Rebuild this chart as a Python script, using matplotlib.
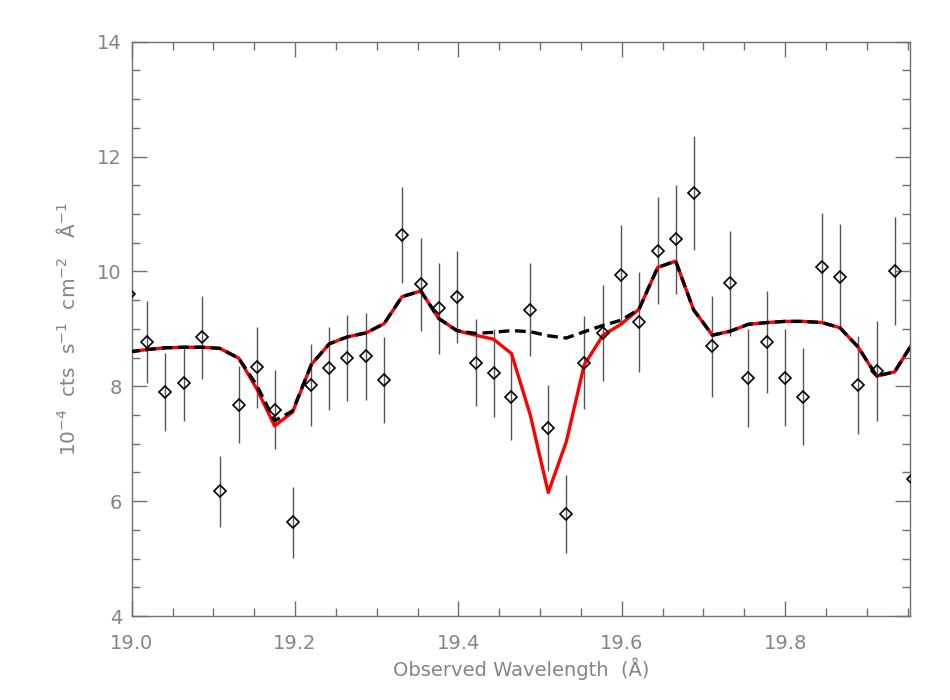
import matplotlib
matplotlib.use("Agg")
import matplotlib.pyplot as plt
from matplotlib.ticker import MultipleLocator

# observed spectrum (wavelength grid, flux, 1-sigma errors)
wave = [18.997, 19.019, 19.041, 19.064, 19.086, 19.108, 19.131, 19.153, 19.175, 19.197,
        19.220, 19.242, 19.264, 19.287, 19.309, 19.331, 19.354, 19.376, 19.398, 19.421,
        19.443, 19.465, 19.488, 19.510, 19.532, 19.554, 19.577, 19.599, 19.621, 19.644,
        19.666, 19.688, 19.711, 19.733, 19.755, 19.778, 19.800, 19.822, 19.845, 19.867,
        19.889, 19.912, 19.934, 19.956]

flux = [9.60, 8.77, 7.90, 8.05, 8.85, 6.17, 7.68, 8.33, 7.59, 5.63,
        8.02, 8.31, 8.49, 8.52, 8.11, 10.63, 9.78, 9.36, 9.55, 8.41,
        8.23, 7.82, 9.33, 7.28, 5.78, 8.41, 8.93, 9.94, 9.12, 10.36,
        10.56, 11.37, 8.70, 9.79, 8.14, 8.77, 8.15, 7.82, 10.08, 9.91,
        8.02, 8.27, 10.00, 6.39]

err = [0.70, 0.72, 0.68, 0.65, 0.72, 0.62, 0.67, 0.71, 0.69, 0.62,
       0.72, 0.73, 0.75, 0.76, 0.75, 0.84, 0.81, 0.79, 0.80, 0.76,
       0.76, 0.75, 0.81, 0.75, 0.68, 0.81, 0.84, 0.87, 0.87, 0.93,
       0.95, 0.99, 0.88, 0.92, 0.85, 0.89, 0.85, 0.84, 0.94, 0.91,
       0.85, 0.87, 0.94, 0.85]

# model with absorption line (red) and continuum-only model (dashed)
model_abs = [8.60, 8.64, 8.67, 8.68, 8.68, 8.66, 8.49, 7.96, 7.31, 7.55,
             8.38, 8.74, 8.86, 8.93, 9.09, 9.56, 9.66, 9.18, 8.97, 8.89,
             8.82, 8.57, 7.50, 6.15, 7.03, 8.37, 8.89, 9.08, 9.34, 10.07,
             10.18, 9.33, 8.89, 8.96, 9.08, 9.11, 9.13, 9.13, 9.11, 9.02,
             8.69, 8.18, 8.25, 8.75]

model_cont = [8.60, 8.64, 8.67, 8.68, 8.68, 8.66, 8.49, 8.02, 7.40, 7.57,
              8.38, 8.74, 8.86, 8.93, 9.09, 9.56, 9.66, 9.18, 8.97, 8.92,
              8.94, 8.97, 8.95, 8.88, 8.84, 8.95, 9.06, 9.15, 9.34, 10.07,
              10.18, 9.33, 8.89, 8.96, 9.08, 9.11, 9.13, 9.13, 9.11, 9.02,
              8.69, 8.18, 8.25, 8.75]

grey = '#858585'

fig = plt.figure(figsize=(9.5, 7), dpi=100)
ax = fig.add_axes([0.1386, 0.12, 0.8194, 0.8204])

ax.errorbar(wave, flux, yerr=err, fmt='none', ecolor='#555555', elinewidth=1.0, capsize=0, zorder=2)
ax.plot(wave, model_abs, color='red', lw=2.4, zorder=3)
ax.plot(wave, model_cont, color='black', lw=2.4, dashes=(3.2, 1.7), zorder=4)
ax.plot(wave, flux, linestyle='none', marker='D', ms=6.5, mfc='none', mec='black', mew=1.2, zorder=5)

ax.set_xlim(19.0, 19.953)
ax.set_ylim(4, 14)

ax.xaxis.set_major_locator(MultipleLocator(0.2))
ax.xaxis.set_minor_locator(MultipleLocator(0.05))
ax.yaxis.set_major_locator(MultipleLocator(2))
ax.yaxis.set_minor_locator(MultipleLocator(0.5))
ax.xaxis.set_major_formatter(plt.FormatStrFormatter('%.1f'))
ax.yaxis.set_major_formatter(plt.FormatStrFormatter('%d'))

ax.tick_params(which='both', direction='in', top=True, right=True, color='#707070', labelcolor=grey, labelsize=14)
ax.tick_params(which='major', length=11, width=1)
ax.tick_params(which='minor', length=6, width=1)
ax.tick_params(axis='x', pad=13)
ax.tick_params(axis='y', pad=7)
for s in ax.spines.values():
    s.set_color('#707070')
    s.set_linewidth(1)

ax.set_xlabel('Observed Wavelength  (Å)', color=grey, fontsize=14, labelpad=3)
ax.set_ylabel(r'10$^{-4}$  cts  s$^{-1}$  cm$^{-2}$   Å$^{-1}$', color=grey, fontsize=14.5, labelpad=13)

fig.savefig('out.png', dpi=100)
